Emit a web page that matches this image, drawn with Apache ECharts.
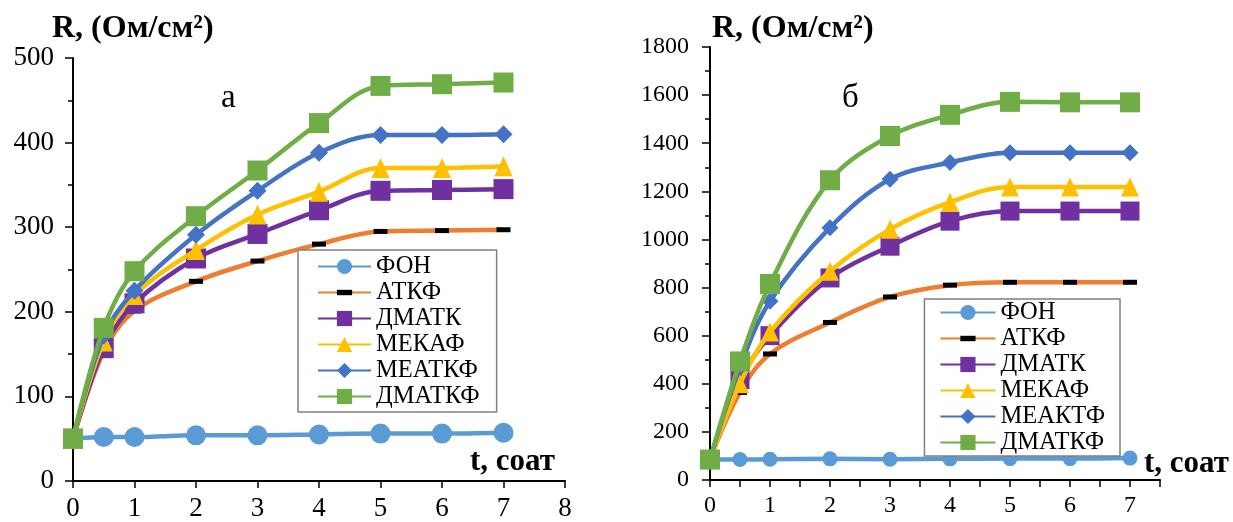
<!DOCTYPE html>
<html>
<head>
<meta charset="utf-8">
<script src="https://cdn.jsdelivr.net/npm/echarts@6/dist/echarts.min.js"></script>
<style>
html,body{margin:0;padding:0;background:#fff;}
#chart{width:1233px;height:522px;}
</style>
</head>
<body>
<div id="chart"></div>
<script>
// ---- data ----
var timesHours = [0, 0.5, 1, 2, 3, 4, 5, 6, 7];

var namesA = ['ФОН', 'АТКФ', 'ДМАТК', 'МЕКАФ', 'МЕАТКФ', 'ДМАТКФ'];
var fonA     = [50, 52, 52, 54, 54, 55, 56, 56, 57];
var atkfA    = [50, 153, 201, 236, 260, 280, 295, 296, 297];
var dmatkA   = [50, 157, 210, 263, 292, 320, 343, 344, 345];
var mekafA   = [50, 165, 220, 273, 315, 342, 370, 370, 372];
var meatkfA  = [50, 172, 225, 291, 343, 388, 409, 409, 410];
var dmatkfA  = [50, 181, 248, 313, 367, 423, 467, 469, 471];

var namesB = ['ФОН', 'АТКФ', 'ДМАТК', 'МЕКАФ', 'МЕАКТФ', 'ДМАТКФ'];
var fonB     = [85, 85, 86, 88, 86, 88, 89, 89, 91];
var atkfB    = [85, 364, 524, 655, 761, 810, 822, 822, 822];
var dmatkB   = [85, 417, 600, 840, 972, 1076, 1118, 1118, 1118];
var mekafB   = [85, 400, 615, 868, 1042, 1155, 1218, 1218, 1218];
var meaktfB  = [85, 470, 743, 1049, 1250, 1320, 1360, 1360, 1360];
var dmatkfB  = [85, 493, 815, 1246, 1430, 1518, 1572, 1570, 1570];

var yTitle = 'R, (Ом/см²)';
var xTitle = 't, соат';
var panelA = 'а';
var panelB = 'б';

// ---- styles ----
var colors = ['#5B9BD5', '#ED7D31', '#7030A0', '#FFC000', '#4472C4', '#70AD47'];
var markerColors = ['#5B9BD5', '#000000', '#7030A0', '#FFC000', '#4472C4', '#70AD47'];
var dash = 'path://M0,0M0,14M0,4.5H14V9.5H0Z';
var symbols = ['circle', dash, 'rect', 'triangle', 'diamond', 'rect'];
var sizesA = [20, 14, 20, [18, 20], [18, 18], 20];
var sizesB = [15, 14, 19, [18, 19], [17, 17], 20];
var FONT = '"Liberation Serif", "Times New Roman", serif';

function pairs(ys) { return timesHours.map(function (t, i) { return [t, ys[i]]; }); }

function makeSeries(names, datasets, sizes, axisIdx) {
  return names.map(function (n, i) {
    return {
      name: n, type: 'line', xAxisIndex: axisIdx, yAxisIndex: axisIdx,
      data: pairs(datasets[i]), smooth: 0.35,
      symbol: symbols[i], symbolSize: sizes[i],
      lineStyle: { color: colors[i], width: 4.5 },
      itemStyle: { color: markerColors[i], borderWidth: 0 },
      emphasis: { disabled: true },
      z: 2 + i
    };
  });
}

function yAxisCfg(idx, max, interval, fs, margin) {
  return {
    type: 'value', gridIndex: idx, min: 0, max: max, interval: interval,
    axisLine: { show: true, lineStyle: { color: '#000', width: 2 } },
    axisTick: { show: true, length: 8, lineStyle: { color: '#000', width: 1.5 } },
    minorTick: { show: true, splitNumber: 2, length: 5, lineStyle: { color: '#000', width: 1.5 } },
    splitLine: { show: false }, minorSplitLine: { show: false },
    axisLabel: { color: '#000', fontFamily: FONT, fontSize: fs, margin: margin,
      formatter: function (v) { return String(v); } }
  };
}

function xAxisCfg(idx, max, interval, fs) {
  return {
    type: 'value', gridIndex: idx, min: 0, max: max, interval: interval,
    axisLine: { show: true, onZero: false, lineStyle: { color: '#000', width: 2 } },
    axisTick: { show: true, length: 7, lineStyle: { color: '#000', width: 1.5 } },
    splitLine: { show: false },
    axisLabel: {
      color: '#000', fontFamily: FONT, fontSize: fs, margin: 14,
      showMaxLabel: true,
      formatter: function (v) { return Math.abs(v - Math.round(v)) < 1e-9 ? String(Math.round(v)) : ''; }
    }
  };
}

function legendCfg(names, pos, itemWidth, padding) {
  var cfg = {
    orient: 'vertical', data: names,
    itemWidth: itemWidth, itemHeight: 19, itemGap: 1,
    padding: padding, borderColor: '#808080', borderWidth: 1.5, backgroundColor: '#fff',
    selectedMode: false,
    textStyle: { fontFamily: FONT, fontSize: 24.5, color: '#000', lineHeight: 24 }
  };
  for (var k in pos) cfg[k] = pos[k];
  return cfg;
}

var chart = echarts.init(document.getElementById('chart'), null, { renderer: 'canvas' });
chart.setOption({
  animation: false,
  backgroundColor: '#fff',
  textStyle: { fontFamily: FONT },
  title: [
    { text: yTitle, left: 52, top: 13, padding: 0, textStyle: { fontFamily: FONT, fontWeight: 'bold', fontSize: 32, color: '#000' } },
    { text: yTitle, left: 712, top: 13, padding: 0, textStyle: { fontFamily: FONT, fontWeight: 'bold', fontSize: 32, color: '#000' } },
    { text: xTitle, left: 470, top: 446, padding: 0, textStyle: { fontFamily: FONT, fontWeight: 'bold', fontSize: 31, color: '#000' } },
    { text: xTitle, left: 1144, top: 448, padding: 0, textStyle: { fontFamily: FONT, fontWeight: 'bold', fontSize: 31, color: '#000' } },
    { text: panelA, left: 221, top: 82, padding: 0, textStyle: { fontFamily: FONT, fontWeight: 'normal', fontSize: 33, color: '#000' } },
    { text: panelB, left: 842, top: 82, padding: 0, textStyle: { fontFamily: FONT, fontWeight: 'normal', fontSize: 33, color: '#000' } }
  ],
  legend: [
    legendCfg(namesA, { left: 298, top: 250 }, 53, [4, 17, 3, 19]),
    legendCfg(namesB, { right: 113, top: 299 }, 55, [1, 15, 1, 15])
  ],
  grid: [
    { left: 73, top: 58, width: 492, height: 424, containLabel: false },
    { left: 710, top: 47, width: 450, height: 433, containLabel: false }
  ],
  xAxis: [xAxisCfg(0, 8, 1, 27), xAxisCfg(1, 7.5, 0.5, 24)],
  yAxis: [yAxisCfg(0, 500, 100, 27, 19), yAxisCfg(1, 1800, 200, 24, 21)],
  series: makeSeries(namesA, [fonA, atkfA, dmatkA, mekafA, meatkfA, dmatkfA], sizesA, 0)
    .concat(makeSeries(namesB, [fonB, atkfB, dmatkB, mekafB, meaktfB, dmatkfB], sizesB, 1))
});
</script>
</body>
</html>
